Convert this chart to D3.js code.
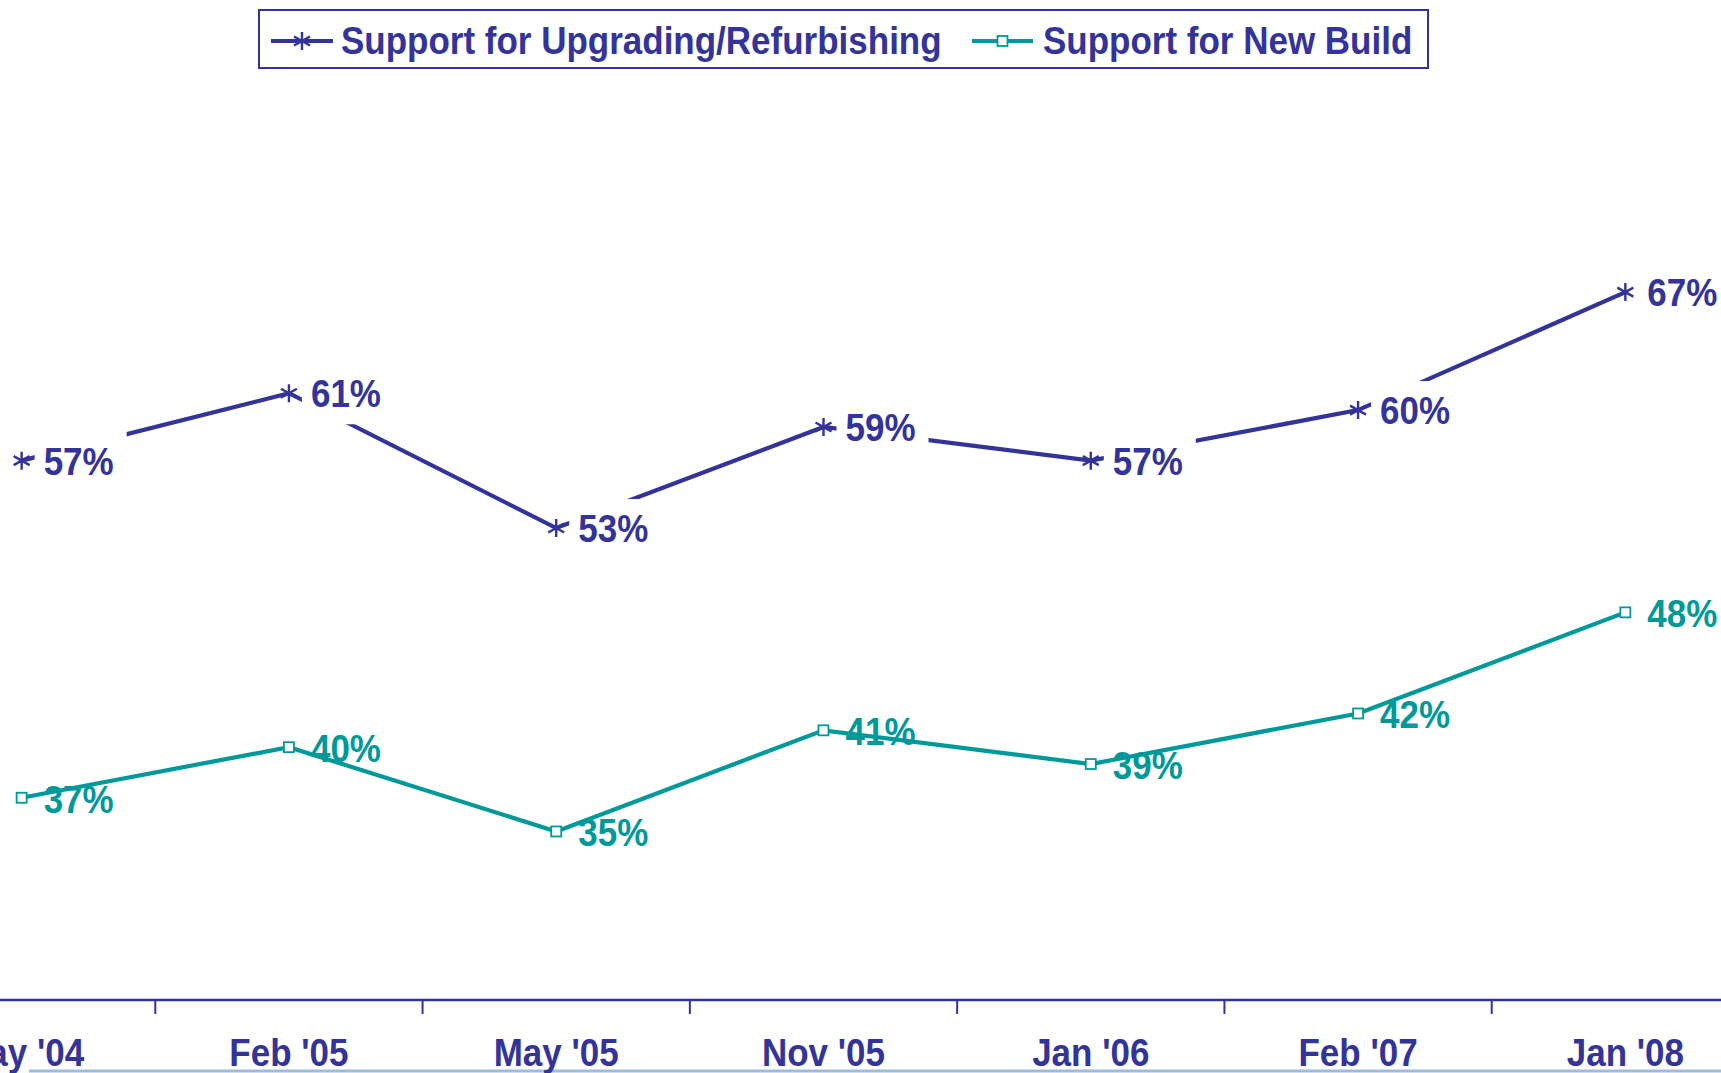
<!DOCTYPE html>
<html>
<head>
<meta charset="utf-8">
<script src="https://cdn.jsdelivr.net/npm/d3@7"></script>
<style>
  html, body { margin: 0; padding: 0; background: #fff; }
  svg { display: block; }
  text { font-family: "Liberation Sans", Arial, sans-serif; font-weight: bold; }
</style>
</head>
<body>
<svg id="chart" width="1721" height="1073"></svg>
<script>
const categories = ["May '04", "Feb '05", "May '05", "Nov '05", "Jan '06", "Feb '07", "Jan '08"];
const upgradeValues = [57, 61, 53, 59, 57, 60, 67];
const newBuildValues = [37, 40, 35, 41, 39, 42, 48];
const seriesNames = ["Support for Upgrading/Refurbishing", "Support for New Build"];

const BLUE = "#333399", TEAL = "#009999";
const W = 1721, H = 1073;
const svg = d3.select("#chart");

const x = d3.scaleBand().domain(categories).range([-112, 1759]).padding(0);
const y = d3.scaleLinear().domain([25, 80]).range([1000, 73]);
const cx = c => x(c) + x.bandwidth() / 2;

// bottom slide line
svg.append("line").attr("x1", 29).attr("x2", W).attr("y1", 1071).attr("y2", 1071)
  .attr("stroke", "#9dbbdf").attr("stroke-width", 3);

// x axis
const axisG = svg.append("g").attr("transform", `translate(0,${y(25)})`);
axisG.append("line").attr("x1", 0).attr("x2", W).attr("y1", 0).attr("y2", 0)
  .attr("stroke", BLUE).attr("stroke-width", 2.5);
axisG.selectAll("line.tick").data(categories.slice(1)).join("line")
  .attr("class", "tick")
  .attr("x1", d => x(d)).attr("x2", d => x(d))
  .attr("y1", 0).attr("y2", 14)
  .attr("stroke", BLUE).attr("stroke-width", 2);
const labAxis = d3.axisBottom(x).tickSize(0).tickPadding(0);
const ax = svg.append("g").attr("transform", `translate(0,${y(25)})`).call(labAxis);
ax.select(".domain").remove();
ax.selectAll("text")
  .attr("y", 0).attr("dy", 0)
  .attr("transform", "translate(0,66) scale(1,1.1)")
  .attr("font-size", 35).attr("fill", BLUE)
  .attr("font-family", "'Liberation Sans', Arial, sans-serif").attr("font-weight", "bold");

const line = d3.line().x((d, i) => cx(categories[i])).y(d => y(d));

// teal series
svg.append("path").datum(newBuildValues).attr("d", line)
  .attr("fill", "none").attr("stroke", TEAL).attr("stroke-width", 4.2);
svg.selectAll("rect.sq").data(newBuildValues).join("rect").attr("class", "sq")
  .attr("x", (d, i) => cx(categories[i]) - 5).attr("y", d => y(d) - 5)
  .attr("width", 10).attr("height", 10)
  .attr("fill", "#fff").attr("stroke", TEAL).attr("stroke-width", 1.8);
svg.selectAll("text.tl").data(newBuildValues).join("text").attr("class", "tl")
  .attr("transform", (d, i) => `translate(${cx(categories[i]) + 22},${y(d) + 15}) scale(1,1.1)`)
  .attr("font-size", 35).attr("fill", TEAL).text(d => d + "%");

// blue series
svg.append("path").datum(upgradeValues).attr("d", line)
  .attr("fill", "none").attr("stroke", BLUE).attr("stroke-width", 4.2);
// label boxes (white backgrounds)
svg.selectAll("rect.bx").data(upgradeValues).join("rect").attr("class", "bx")
  .attr("x", (d, i) => cx(categories[i]) + 13).attr("y", d => y(d) - 29)
  .attr("width", 92).attr("height", 60).attr("fill", "#fff");
const star = "M0,-9L0,9M-8,-4.5L8,4.5M-8,4.5L8,-4.5";
svg.selectAll("path.st").data(upgradeValues).join("path").attr("class", "st")
  .attr("transform", (d, i) => `translate(${cx(categories[i])},${y(d)})`)
  .attr("d", star).attr("stroke", BLUE).attr("stroke-width", 2.4).attr("fill", "none");
svg.selectAll("text.bl").data(upgradeValues).join("text").attr("class", "bl")
  .attr("transform", (d, i) => `translate(${cx(categories[i]) + 22},${y(d) + 14}) scale(1,1.1)`)
  .attr("font-size", 35).attr("fill", BLUE).text(d => d + "%");

// legend
const lg = svg.append("g");
lg.append("rect").attr("x", 259).attr("y", 10).attr("width", 1169).attr("height", 58)
  .attr("fill", "#fff").attr("stroke", BLUE).attr("stroke-width", 2);
const legendItems = [
  { name: seriesNames[0], color: BLUE, x0: 271, x1: 333, tx: 341, marker: "star" },
  { name: seriesNames[1], color: TEAL, x0: 972, x1: 1033, tx: 1043, marker: "sq" }
];
legendItems.forEach(it => {
  const ly = 41;
  lg.append("line").attr("x1", it.x0).attr("x2", it.x1).attr("y1", ly).attr("y2", ly)
    .attr("stroke", it.color).attr("stroke-width", 4.2);
  const mx = (it.x0 + it.x1) / 2;
  if (it.marker === "star") {
    lg.append("path").attr("transform", `translate(${mx},${ly})`).attr("d", star)
      .attr("stroke", it.color).attr("stroke-width", 2.4).attr("fill", "none");
  } else {
    lg.append("rect").attr("x", mx - 5).attr("y", ly - 5).attr("width", 10).attr("height", 10)
      .attr("fill", "#fff").attr("stroke", it.color).attr("stroke-width", 1.8);
  }
  lg.append("text").attr("transform", `translate(${it.tx},${ly + 13}) scale(1,1.1)`)
    .attr("font-size", 35).attr("fill", BLUE).text(it.name);
});
</script>
</body>
</html>
